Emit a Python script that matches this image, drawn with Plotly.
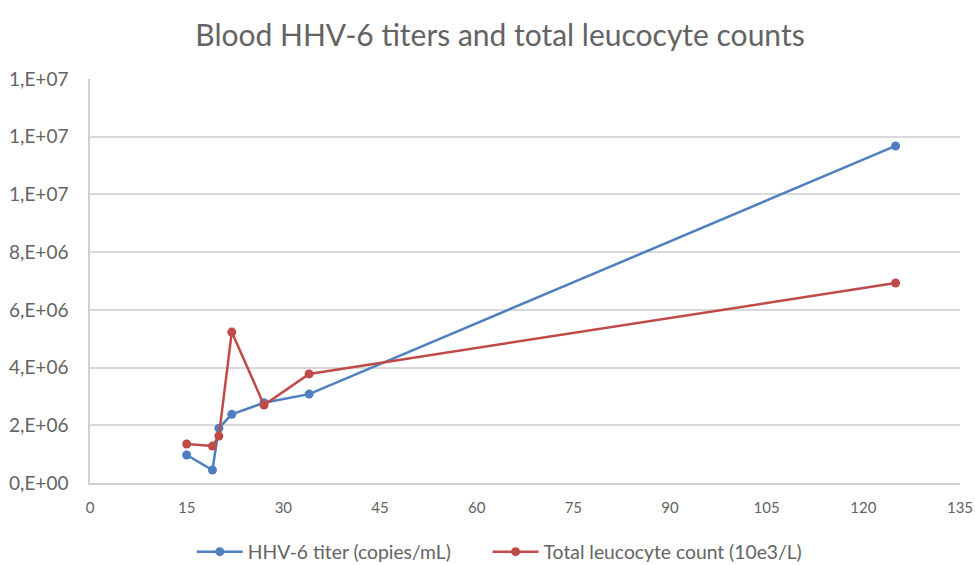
import plotly.graph_objects as go

hhv_x = [15, 19, 20, 22, 27, 34, 125]
hhv_y = [0.97e6, 0.45e6, 1.9e6, 2.38e6, 2.78e6, 3.08e6, 11.68e6]
leu_x = [15, 19, 20, 22, 27, 34, 125]
leu_y = [1.35e6, 1.28e6, 1.63e6, 5.23e6, 2.7e6, 3.78e6, 6.93e6]

y_tickvals = [0, 2e6, 4e6, 6e6, 8e6, 10e6, 12e6, 14e6]
y_ticktext = ["0,E+00", "2,E+06", "4,E+06", "6,E+06", "8,E+06", "1,E+07", "1,E+07", "1,E+07"]
x_tickvals = [0, 15, 30, 45, 60, 75, 90, 105, 120, 135]

blue = "#4F7FBE"
red = "#BE4B48"
grey_text = "#636363"
font_family = "Lato, 'Open Sans', sans-serif"

fig = go.Figure()
fig.add_trace(go.Scatter(
    x=hhv_x, y=hhv_y, mode="lines+markers", name="HHV-6 titer (copies/mL)",
    line=dict(color=blue, width=2.5), marker=dict(color=blue, size=9),
    legend="legend"))
fig.add_trace(go.Scatter(
    x=leu_x, y=leu_y, mode="lines+markers", name="Total leucocyte count (10e3/L)",
    line=dict(color=red, width=2.5), marker=dict(color=red, size=9),
    legend="legend2"))

legend_common = dict(orientation="h", xanchor="left", y=-0.171, yanchor="middle",
                     font=dict(size=19.3, color=grey_text), itemwidth=46,
                     bgcolor="rgba(0,0,0,0)")

fig.update_layout(
    width=975, height=565,
    paper_bgcolor="white", plot_bgcolor="white",
    margin=dict(l=90, r=15, t=79, b=82, autoexpand=False),
    title=dict(text="Blood HHV-6 titers and total leucocyte counts",
               x=0.5128, xanchor="center", y=0.938, yanchor="middle",
               font=dict(family=font_family, size=30, color=grey_text)),
    font=dict(family=font_family, size=16, color=grey_text),
    legend=dict(x=0.117, **legend_common),
    legend2=dict(x=0.457, **legend_common),
    showlegend=True,
)
fig.update_xaxes(range=[0, 135], tickvals=x_tickvals, showgrid=False,
                 showline=True, linecolor="#d0d0d0", linewidth=1.5,
                 zeroline=False, ticks="", automargin=False, ticklabelstandoff=10,
                 tickfont=dict(size=15, color=grey_text))
fig.update_yaxes(range=[0, 14e6], tickvals=y_tickvals, ticktext=y_ticktext,
                 showgrid=True, gridcolor="#d9d9d9", gridwidth=1.5,
                 showline=True, linecolor="#d0d0d0", linewidth=1.5,
                 zeroline=False, ticks="", ticklabelstandoff=16, automargin=False,
                 tickfont=dict(size=19, color=grey_text))

fig.write_html("out.html",
               config={"displayModeBar": False},
               post_script="document.body.style.margin='0px';document.body.style.overflow='hidden';")
